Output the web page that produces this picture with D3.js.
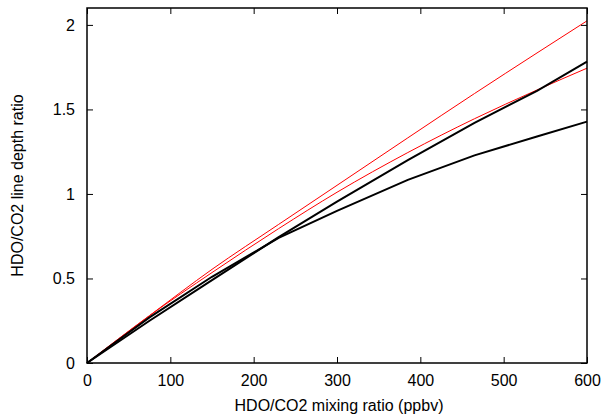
<!DOCTYPE html>
<html><head><meta charset="utf-8">
<script src="https://cdn.jsdelivr.net/npm/d3@7"></script>
<style>body{margin:0;background:#fff}svg text{font-family:"Liberation Sans",Arial,sans-serif;}</style>
</head><body><svg id="c" width="606" height="416"></svg>
<script>
const xs = [0, 75, 150, 230, 300, 385, 465, 540, 600];
const blackStraight = [0, 0.25, 0.49, 0.745, 0.955, 1.20, 1.42, 1.61, 1.783];
const blackCurved   = [0, 0.27, 0.51, 0.74, 0.90, 1.083, 1.228, 1.34, 1.428];
const redUpper      = [0, 0.28, 0.554, 0.82, 1.051, 1.332, 1.594, 1.834, 2.024];
const redLower      = [0, 0.28, 0.535, 0.795, 1.01, 1.245, 1.445, 1.615, 1.744];
const xTicks = [0, 100, 200, 300, 400, 500, 600];
const yTicks = [0, 0.5, 1, 1.5, 2];
const xTitle = "HDO/CO2 mixing ratio (ppbv)";
const yTitle = "HDO/CO2 line depth ratio";

const svg = d3.select("#c");
const L = 87, R = 587, T = 8, B = 363;
const x = d3.scaleLinear().domain([0, 600]).range([L, R]);
const y = d3.scaleLinear().domain([0, 2.1]).range([B, T]);

const series = [
  {v: redUpper, c: "#ff0000", w: 1, smooth: true},
  {v: redLower, c: "#ff0000", w: 1, smooth: true},
  {v: blackStraight, c: "#000", w: 2, smooth: false},
  {v: blackCurved, c: "#000", w: 2, smooth: false}
];
series.forEach(s => {
  const line = d3.line().x((d,i)=>x(xs[i])).y(d=>y(d))
    .curve(s.smooth ? d3.curveMonotoneX : d3.curveLinear);
  svg.append("path").datum(s.v).attr("d", line)
    .attr("fill","none").attr("stroke", s.c).attr("stroke-width", s.w);
});

const fs = 16;
const gx = svg.append("g").attr("transform",`translate(0,${B})`)
  .call(d3.axisBottom(x).tickValues(xTicks).tickSizeInner(-6).tickSizeOuter(0).tickPadding(12).tickFormat(d3.format("d")));
const gxt = svg.append("g").attr("transform",`translate(0,${T})`)
  .call(d3.axisTop(x).tickValues(xTicks).tickSizeInner(-6).tickSizeOuter(0).tickFormat(""));
const gy = svg.append("g").attr("transform",`translate(${L},0)`)
  .call(d3.axisLeft(y).tickValues(yTicks).tickSizeInner(-6).tickSizeOuter(0).tickPadding(12).tickFormat(d=>String(d)));
const gyr = svg.append("g").attr("transform",`translate(${R},0)`)
  .call(d3.axisRight(y).tickValues(yTicks).tickSizeInner(-6).tickSizeOuter(0).tickFormat(""));
[gx,gxt,gy,gyr].forEach(g=>{
  g.select(".domain").remove();
  g.selectAll("line").attr("stroke","#000").attr("stroke-width",1);
  g.selectAll("text").attr("font-size",fs).attr("fill","#000").attr("font-family","Liberation Sans, Arial, sans-serif");
});
gx.selectAll("text").attr("dy","0.71em");

svg.append("rect").attr("x",L).attr("y",T).attr("width",R-L).attr("height",B-T)
  .attr("fill","none").attr("stroke","#000").attr("stroke-width",1.5);

svg.append("text").attr("x",(L+R)/2+2).attr("y",411).attr("text-anchor","middle")
  .attr("font-size",fs).text(xTitle);
svg.append("text").attr("transform",`translate(23,${(T+B)/2}) rotate(-90)`).attr("text-anchor","middle")
  .attr("font-size",fs).text(yTitle);
</script></body></html>
